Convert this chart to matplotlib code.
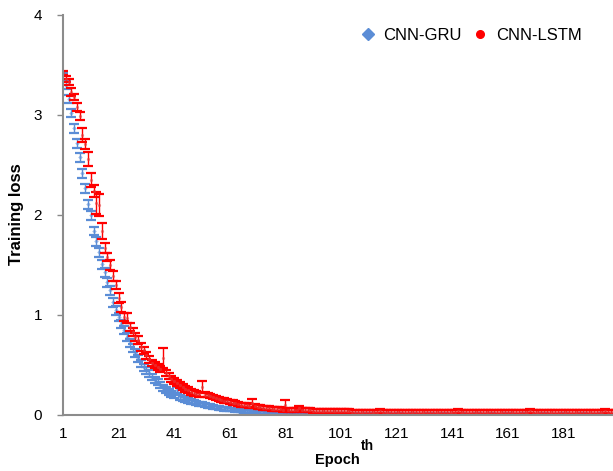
import matplotlib
matplotlib.use('Agg')
import matplotlib.pyplot as plt
from matplotlib.lines import Line2D

plt.rcParams['font.family'] = ['Liberation Sans', 'DejaVu Sans']

# --- data (one value per epoch) ---
epochs = list(range(1, 201))

gru_loss = [
    3.42, 3.30, 3.16, 3.02, 2.87, 2.72, 2.58, 2.42, 2.27, 2.11,
    2.00, 1.84, 1.74, 1.63, 1.51, 1.43, 1.33, 1.25, 1.13, 1.05,
    0.98, 0.91, 0.85, 0.78, 0.72, 0.67, 0.62, 0.57, 0.52, 0.48,
    0.45, 0.42, 0.38, 0.35, 0.33, 0.30, 0.27, 0.25, 0.23, 0.21,
    0.20, 0.25, 0.18, 0.17, 0.16, 0.15, 0.14, 0.13, 0.12, 0.115,
    0.11, 0.10, 0.095, 0.09, 0.085, 0.075, 0.07, 0.066, 0.062, 0.058,
    0.055, 0.052, 0.048, 0.045, 0.042, 0.040, 0.037, 0.034, 0.032, 0.030,
    0.028, 0.027, 0.025, 0.024, 0.022, 0.021, 0.020, 0.019, 0.018, 0.017,
    0.016, 0.016, 0.015, 0.014, 0.014, 0.013, 0.013, 0.012, 0.012, 0.011,
    0.011, 0.011, 0.010, 0.010, 0.010, 0.010, 0.009, 0.009, 0.009, 0.009,
    0.009, 0.008, 0.009, 0.008, 0.008, 0.009, 0.008, 0.008, 0.008, 0.009,
    0.008, 0.008, 0.009, 0.008, 0.008, 0.008, 0.009, 0.008, 0.008, 0.008,
    0.008, 0.009, 0.008, 0.008, 0.008, 0.008, 0.009, 0.008, 0.008, 0.008,
    0.008, 0.008, 0.009, 0.008, 0.008, 0.008, 0.008, 0.009, 0.008, 0.008,
    0.008, 0.008, 0.008, 0.009, 0.008, 0.008, 0.008, 0.008, 0.008, 0.009,
    0.008, 0.008, 0.008, 0.008, 0.009, 0.008, 0.008, 0.008, 0.008, 0.008,
    0.009, 0.008, 0.008, 0.008, 0.008, 0.008, 0.009, 0.008, 0.008, 0.008,
    0.008, 0.008, 0.008, 0.009, 0.008, 0.008, 0.008, 0.008, 0.008, 0.008,
    0.009, 0.008, 0.008, 0.008, 0.008, 0.008, 0.008, 0.009, 0.008, 0.008,
    0.008, 0.008, 0.008, 0.008, 0.009, 0.008, 0.008, 0.008, 0.008, 0.008,
]

gru_err = [
    0.010, 0.040, 0.040, 0.040, 0.045, 0.045, 0.045, 0.045, 0.045, 0.045,
    0.045, 0.045, 0.045, 0.045, 0.045, 0.045, 0.045, 0.045, 0.045, 0.045,
    0.040, 0.040, 0.040, 0.040, 0.040, 0.040, 0.040, 0.035, 0.035, 0.035,
    0.035, 0.035, 0.030, 0.030, 0.030, 0.030, 0.030, 0.030, 0.030, 0.030,
    0.025, 0.030, 0.025, 0.025, 0.025, 0.025, 0.025, 0.020, 0.020, 0.020,
    0.020, 0.020, 0.020, 0.020, 0.020, 0.018, 0.018, 0.018, 0.018, 0.018,
    0.016, 0.016, 0.016, 0.016, 0.015, 0.015, 0.015, 0.014, 0.014, 0.014,
    0.013, 0.013, 0.013, 0.012, 0.012, 0.012, 0.012, 0.011, 0.011, 0.011,
    0.010, 0.010, 0.010, 0.010, 0.010, 0.010, 0.010, 0.009, 0.009, 0.009,
    0.009, 0.009, 0.009, 0.008, 0.008, 0.008, 0.008, 0.008, 0.008, 0.008,
    0.007, 0.007, 0.007, 0.007, 0.007, 0.007, 0.007, 0.007, 0.007, 0.007,
    0.007, 0.007, 0.007, 0.007, 0.007, 0.007, 0.007, 0.007, 0.007, 0.007,
    0.007, 0.007, 0.007, 0.007, 0.007, 0.007, 0.007, 0.007, 0.007, 0.007,
    0.007, 0.007, 0.007, 0.007, 0.007, 0.007, 0.007, 0.007, 0.007, 0.007,
    0.007, 0.007, 0.007, 0.007, 0.007, 0.007, 0.007, 0.007, 0.007, 0.007,
    0.007, 0.007, 0.007, 0.007, 0.007, 0.007, 0.007, 0.007, 0.007, 0.007,
    0.007, 0.007, 0.007, 0.007, 0.007, 0.007, 0.007, 0.007, 0.007, 0.007,
    0.007, 0.007, 0.007, 0.007, 0.007, 0.007, 0.007, 0.007, 0.007, 0.007,
    0.007, 0.007, 0.007, 0.007, 0.007, 0.007, 0.007, 0.007, 0.007, 0.007,
    0.007, 0.007, 0.007, 0.007, 0.007, 0.007, 0.007, 0.007, 0.007, 0.007,
]

lstm_loss = [
    3.42, 3.36, 3.33, 3.23, 3.18, 3.08, 2.99, 2.80, 2.71, 2.56,
    2.35, 2.24, 2.12, 2.10, 1.84, 1.67, 1.58, 1.50, 1.39, 1.30,
    1.17, 1.08, 0.98, 0.97, 0.88, 0.83, 0.78, 0.75, 0.68, 0.65,
    0.60, 0.56, 0.52, 0.50, 0.48, 0.46, 0.57, 0.42, 0.39, 0.36,
    0.34, 0.32, 0.30, 0.28, 0.26, 0.25, 0.23, 0.22, 0.215, 0.21,
    0.28, 0.205, 0.20, 0.19, 0.18, 0.17, 0.16, 0.15, 0.145, 0.14,
    0.13, 0.125, 0.12, 0.11, 0.105, 0.10, 0.10, 0.095, 0.12, 0.09,
    0.085, 0.08, 0.075, 0.07, 0.068, 0.065, 0.06, 0.058, 0.056, 0.055,
    0.10, 0.055, 0.052, 0.05, 0.05, 0.075, 0.048, 0.047, 0.046, 0.046,
    0.045, 0.045, 0.044, 0.043, 0.042, 0.042, 0.041, 0.040, 0.040, 0.039,
    0.038, 0.037, 0.036, 0.036, 0.035, 0.035, 0.034, 0.034, 0.033, 0.033,
    0.032, 0.033, 0.032, 0.034, 0.045, 0.032, 0.031, 0.032, 0.031, 0.031,
    0.030, 0.031, 0.030, 0.030, 0.031, 0.030, 0.030, 0.031, 0.030, 0.030,
    0.030, 0.031, 0.030, 0.030, 0.030, 0.031, 0.030, 0.032, 0.031, 0.030,
    0.030, 0.031, 0.045, 0.030, 0.030, 0.031, 0.030, 0.030, 0.031, 0.030,
    0.030, 0.030, 0.031, 0.030, 0.030, 0.034, 0.030, 0.030, 0.031, 0.030,
    0.030, 0.030, 0.030, 0.031, 0.030, 0.030, 0.030, 0.031, 0.045, 0.030,
    0.030, 0.031, 0.030, 0.033, 0.030, 0.030, 0.031, 0.030, 0.030, 0.030,
    0.031, 0.030, 0.030, 0.030, 0.031, 0.030, 0.030, 0.030, 0.031, 0.030,
    0.030, 0.031, 0.030, 0.030, 0.030, 0.045, 0.031, 0.030, 0.030, 0.030,
]

lstm_err = [
    0.020, 0.030, 0.030, 0.040, 0.030, 0.040, 0.040, 0.070, 0.050, 0.070,
    0.070, 0.060, 0.110, 0.110, 0.080, 0.050, 0.040, 0.050, 0.050, 0.040,
    0.050, 0.050, 0.040, 0.050, 0.040, 0.040, 0.040, 0.040, 0.040, 0.035,
    0.035, 0.035, 0.030, 0.030, 0.030, 0.030, 0.100, 0.030, 0.030, 0.030,
    0.030, 0.030, 0.028, 0.028, 0.028, 0.026, 0.026, 0.026, 0.025, 0.025,
    0.060, 0.025, 0.024, 0.024, 0.024, 0.023, 0.023, 0.022, 0.022, 0.022,
    0.022, 0.021, 0.021, 0.021, 0.020, 0.020, 0.020, 0.020, 0.040, 0.020,
    0.020, 0.020, 0.020, 0.020, 0.020, 0.020, 0.020, 0.020, 0.020, 0.020,
    0.050, 0.020, 0.020, 0.020, 0.020, 0.020, 0.020, 0.020, 0.020, 0.020,
    0.020, 0.020, 0.020, 0.020, 0.020, 0.020, 0.020, 0.020, 0.020, 0.020,
    0.020, 0.020, 0.020, 0.020, 0.020, 0.020, 0.020, 0.020, 0.020, 0.020,
    0.020, 0.020, 0.020, 0.020, 0.020, 0.020, 0.020, 0.020, 0.020, 0.020,
    0.020, 0.020, 0.020, 0.020, 0.020, 0.020, 0.020, 0.020, 0.020, 0.020,
    0.020, 0.020, 0.020, 0.020, 0.020, 0.020, 0.020, 0.020, 0.020, 0.020,
    0.020, 0.020, 0.020, 0.020, 0.020, 0.020, 0.020, 0.020, 0.020, 0.020,
    0.020, 0.020, 0.020, 0.020, 0.020, 0.020, 0.020, 0.020, 0.020, 0.020,
    0.020, 0.020, 0.020, 0.020, 0.020, 0.020, 0.020, 0.020, 0.020, 0.020,
    0.020, 0.020, 0.020, 0.020, 0.020, 0.020, 0.020, 0.020, 0.020, 0.020,
    0.020, 0.020, 0.020, 0.020, 0.020, 0.020, 0.020, 0.020, 0.020, 0.020,
    0.020, 0.020, 0.020, 0.020, 0.020, 0.020, 0.020, 0.020, 0.020, 0.020,
]

x_ticks = [1, 21, 41, 61, 81, 101, 121, 141, 161, 181]
y_ticks = [0, 1, 2, 3, 4]

gru_color = '#5B8DD6'
lstm_color = '#FF0000'

fig = plt.figure(figsize=(6.13, 4.71), dpi=100)
ax = fig.add_axes([63 / 613, 56 / 471, 550 / 613, 400 / 471])

# error bars first, then faint markers on top
ax.errorbar(epochs, gru_loss, yerr=gru_err, fmt='none', ecolor=gru_color,
            elinewidth=1.0, capsize=3.3, capthick=1.6)
ax.plot(epochs, gru_loss, 'D', color=gru_color, markersize=2.3, alpha=0.6,
        markeredgewidth=0)
ax.errorbar(epochs, lstm_loss, yerr=lstm_err, fmt='none', ecolor=lstm_color,
            elinewidth=1.0, capsize=3.3, capthick=1.6)
ax.plot(epochs, lstm_loss, 'o', color='#E04040', markersize=2.3, alpha=0.6,
        markeredgewidth=0)

ax.set_xlim(1, 198.8)
ax.set_ylim(0, 4)
ax.set_xticks(x_ticks)
ax.set_yticks(y_ticks)
ax.tick_params(axis='x', length=0, pad=9, labelsize=11)
ax.tick_params(axis='y', length=4, width=1, color='#888888', pad=11, labelsize=11)

for side in ['top', 'right']:
    ax.spines[side].set_visible(False)
for side in ['left', 'bottom']:
    ax.spines[side].set_color('#8C8C8C')
    ax.spines[side].set_linewidth(1.5)

fig.text(16.5 / 613, 1 - 214 / 471, 'Training loss', rotation=90, ha='center',
         va='center', fontsize=12, fontweight='bold')
fig.text(337 / 613, 1 - 460 / 471, 'Epoch', ha='center', va='center',
         fontsize=10.5, fontweight='bold')
fig.text(367.5 / 613, 1 - 446 / 471, 'th', ha='center', va='center',
         fontsize=10, fontweight='bold')

handles = [
    Line2D([], [], marker='D', linestyle='none', color=gru_color, markersize=6.5),
    Line2D([], [], marker='o', linestyle='none', color=lstm_color, markersize=5.5),
]
fig.legend(handles, ['CNN-GRU', 'CNN-LSTM'], loc='center', ncol=2,
           bbox_to_anchor=(470.5 / 613, 1 - 35 / 471), frameon=False,
           fontsize=12, handletextpad=0.45, columnspacing=0.6, handlelength=1.0)

fig.savefig('out.png', dpi=100)
